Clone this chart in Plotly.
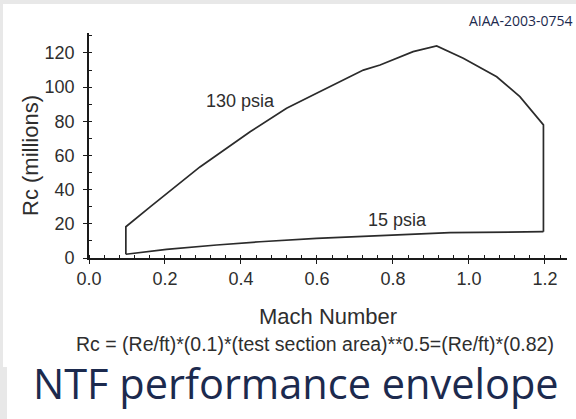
import plotly.graph_objects as go

# --- data ---
mach_130 = [0.097, 0.097, 0.161, 0.292, 0.424, 0.520, 0.599, 0.722, 0.766, 0.853, 0.915, 0.985, 1.073, 1.134, 1.196, 1.196]
rc_130 = [2.2, 18.3, 29.9, 53.3, 73.9, 87.6, 96.4, 110.0, 113.0, 120.8, 124.1, 116.9, 106.1, 94.4, 77.9, 15.4]

mach_15 = [0.097, 0.161, 0.204, 0.336, 0.450, 0.599, 0.792, 0.950, 1.196]
rc_15 = [2.2, 3.7, 5.1, 7.6, 9.5, 11.5, 13.5, 14.8, 15.4]

x_ticks = [0.0, 0.2, 0.4, 0.6, 0.8, 1.0, 1.2]
x_tick_labels = ["0.0", "0.2", "0.4", "0.6", "0.8", "1.0", "1.2"]
y_ticks = [0, 20, 40, 60, 80, 100, 120]

curve_labels = ["130 psia", "15 psia"]
curve_label_pos = [(0.400, 92.0), (0.812, 22.0)]

LINE = "#2b2b2b"
TXT = "#2e2e2e"
NAVY = "#1c2a4e"
ARIAL = "Liberation Sans, Arial, Helvetica, sans-serif"
SEGOE = "Open Sans, Noto Sans, sans-serif"

fig = go.Figure()
fig.add_trace(go.Scatter(x=mach_130, y=rc_130, mode="lines",
                         line=dict(color=LINE, width=1.7), showlegend=False, hoverinfo="skip"))
fig.add_trace(go.Scatter(x=mach_15, y=rc_15, mode="lines",
                         line=dict(color=LINE, width=1.7), showlegend=False, hoverinfo="skip"))

L, R, T, B = 89, 9, 33, 161
W, H = 576, 419
pw, ph = W - L - R, H - T - B

def px(x):
    return (x - L) / pw

def py(y):
    return (H - B - y) / ph

# white panels over a light grey page
shapes = [
    dict(type="rect", xref="paper", yref="paper", x0=px(3), x1=px(600), y0=py(367), y1=py(4),
         fillcolor="white", line=dict(width=0), layer="below"),
    dict(type="rect", xref="paper", yref="paper", x0=px(7), x1=px(600), y0=py(440), y1=py(367),
         fillcolor="white", line=dict(width=0), layer="below"),
]

annotations = []
for t, (mx, ry) in zip(curve_labels, curve_label_pos):
    annotations.append(dict(x=mx, y=ry, xref="x", yref="y", text=t, showarrow=False,
                            font=dict(family=ARIAL, size=18, color=TXT)))

annotations += [
    dict(x=px(575), y=py(20.5), xref="paper", yref="paper", text="AIAA-2003-0754", showarrow=False,
         xanchor="right", yanchor="middle", font=dict(family=SEGOE, size=14, color=NAVY)),
    dict(x=px(30), y=py(156), xref="paper", yref="paper", text="Rc (millions)", showarrow=False,
         textangle=-90, xanchor="center", yanchor="middle", font=dict(family=ARIAL, size=22, color=TXT)),
    dict(x=px(328), y=py(316), xref="paper", yref="paper", text="Mach Number", showarrow=False,
         xanchor="center", yanchor="middle", font=dict(family=ARIAL, size=22, color=TXT)),
    dict(x=px(315), y=py(344), xref="paper", yref="paper",
         text="Rc = (Re/ft)*(0.1)*(test section area)**0.5=(Re/ft)*(0.82)", showarrow=False,
         xanchor="center", yanchor="middle", font=dict(family=ARIAL, size=19.5, color=TXT)),
    dict(x=px(296), y=py(383), xref="paper", yref="paper", text="NTF performance envelope", showarrow=False,
         xanchor="center", yanchor="middle", font=dict(family=SEGOE, size=41.5, color=NAVY)),
]

fig.update_layout(
    width=W, height=H,
    margin=dict(l=L, r=R, t=T, b=B, pad=0),
    paper_bgcolor="#e8e8e8",
    plot_bgcolor="rgba(0,0,0,0)",
    shapes=shapes,
    annotations=annotations,
    xaxis=dict(range=[0, 1.258], tickvals=x_ticks, ticktext=x_tick_labels,
               showgrid=False, zeroline=False, showline=True, linecolor="#1a1a1a", linewidth=1.6,
               ticks="outside", ticklen=4, tickwidth=1.4, tickcolor="#1a1a1a",
               minor=dict(dtick=0.04, ticks="inside", ticklen=3, tickcolor="#1a1a1a", tickwidth=1.2),
               tickfont=dict(family=ARIAL, size=18, color=TXT), ticklabelstandoff=0),
    yaxis=dict(range=[0, 131.7], tickvals=y_ticks,
               showgrid=False, zeroline=False, showline=True, linecolor="#1a1a1a", linewidth=1.6,
               ticks="outside", ticklen=4, tickwidth=1.4, tickcolor="#1a1a1a",
               minor=dict(dtick=10, ticks="inside", ticklen=3, tickcolor="#1a1a1a", tickwidth=1.2),
               tickfont=dict(family=ARIAL, size=18, color=TXT), ticklabelstandoff=5),
)

fig.write_html("out.html", config={"displayModeBar": False},
               post_script="document.body.style.margin='0';document.body.style.padding='0';")
